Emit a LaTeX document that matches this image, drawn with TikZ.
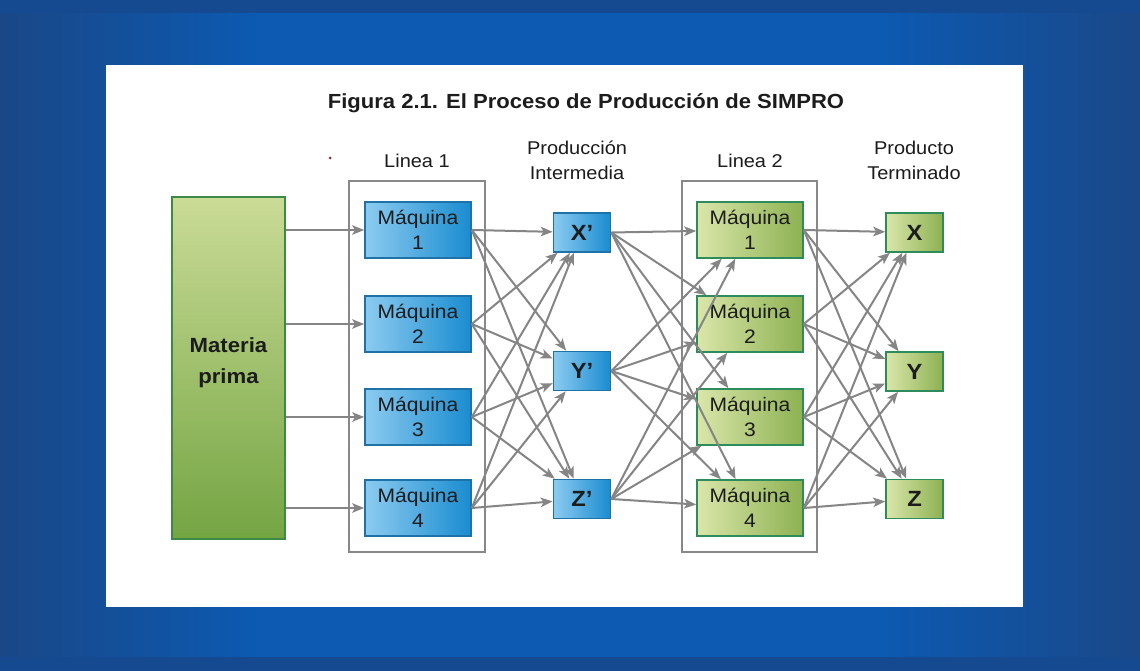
\documentclass[tikz,border=0pt]{standalone}
\usepackage{fontspec}
\setmainfont{Liberation Sans}[FakeStretch=1.08]
\usetikzlibrary{arrows.meta}
\definecolor{bgA}{HTML}{1A4786}
\definecolor{bgC}{HTML}{0C5AB2}
\definecolor{bgB}{HTML}{1A4888}
\definecolor{band}{HTML}{164A90}
\definecolor{arrgray}{HTML}{858585}
\definecolor{boxgray}{HTML}{888888}
\definecolor{blueL}{HTML}{8CCBF0}
\definecolor{blueR}{HTML}{1A8CD0}
\definecolor{blueB}{HTML}{1F72A8}
\definecolor{greenL}{HTML}{DAE6AA}
\definecolor{greenR}{HTML}{8DB152}
\definecolor{greenB}{HTML}{2E8B5B}
\definecolor{mpT}{HTML}{CADB96}
\definecolor{mpB}{HTML}{74A543}
\definecolor{mpBd}{HTML}{3C8A45}
\definecolor{txt}{HTML}{1C1C1C}
\definecolor{dotc}{HTML}{8A2A2A}
\begin{document}
\begin{tikzpicture}[x=1pt,y=1pt,
  arr/.style={draw=arrgray, line width=2pt, -{Stealth[length=12pt,width=9.5pt,inset=3pt]}},
  mach/.style={line width=1.6pt, minimum width=106pt, minimum height=56pt, inner sep=0pt,
    align=center, font=\fontsize{19.5}{25.5}\selectfont, text=txt},
  mblue/.style={mach, draw=blueB, left color=blueL, right color=blueR},
  mgreen/.style={mach, draw=greenB, left color=greenL, right color=greenR},
  small/.style={line width=1.6pt, minimum width=57pt, minimum height=39pt, inner sep=0pt,
    font=\bfseries\fontsize{22}{24}\selectfont, text=txt},
  pblue/.style={small, draw=blueB, left color=blueL, right color=blueR},
  pgreen/.style={small, draw=greenB, left color=greenL, right color=greenR},
  lbl/.style={align=center, font=\fontsize{18.5}{25}\selectfont, text=txt},
  linebox/.style={draw=boxgray, line width=1.8pt}
]
\useasboundingbox (0,0) rectangle (1140,670);
% background
\fill[bgC] (-2,-2) rectangle (1142,672);
\shade[left color=bgA, right color=bgC] (-2,-2) rectangle (260,672);
\shade[left color=bgC, right color=bgB] (880,-2) rectangle (1142,672);
\fill[band] (-2,657) rectangle (1142,672);
\fill[band] (-2,-2) rectangle (1142,13);
\fill[white] (106,63) rectangle (1023,605);

% title and labels
\node[font=\bfseries\fontsize{20.4}{24}\selectfont, text=txt] (title) at (586,567) {Figura 2.1. El Proceso de Producción de SIMPRO};
\fill[dotc] (330,512) circle (1.5pt);
\node[lbl] (l1) at (417,509) {Linea 1};
\node[lbl] (pi) at (577,510) {Producción\\Intermedia};
\node[lbl] (l2) at (750,509) {Linea 2};
\node[lbl] (pt) at (914,510) {Producto\\Terminado};

% line boxes
\draw[linebox] (349,118) rectangle (485,489);
\draw[linebox] (682,118) rectangle (817,489);

% materia prima
\node[draw=mpBd, line width=1.6pt, top color=mpT, bottom color=mpB, minimum width=113pt,
  minimum height=342pt, inner sep=0pt,
  label={[yshift=5pt, align=center, text=txt, font=\bfseries\fontsize{20.5}{31}\selectfont]center:{Materia\\prima}}] (mp) at (228.5,302) {};

% machines
\node[mblue] (b1) at (418,440) {Máquina\\1};
\node[mblue] (b2) at (418,346) {Máquina\\2};
\node[mblue] (b3) at (418,253) {Máquina\\3};
\node[mblue] (b4) at (418,162) {Máquina\\4};
\node[mgreen] (g1) at (750,440) {Máquina\\1};
\node[mgreen] (g2) at (750,346) {Máquina\\2};
\node[mgreen] (g3) at (750,253) {Máquina\\3};
\node[mgreen] (g4) at (750,162) {Máquina\\4};

% intermediate and final
\node[pblue] (px) at (582,437.5) {X’};
\node[pblue] (py) at (582,299) {Y’};
\node[pblue] (pz) at (582,171) {Z’};
\node[pgreen] (fx) at (914.5,437.5) {X};
\node[pgreen] (fy) at (914.5,298.5) {Y};
\node[pgreen] (fz) at (914.5,171) {Z};

% arrows
\foreach \i in {1,...,4} { \draw[arr] (mp.east |- b\i.west) -- (b\i.west); }
\foreach \i in {1,...,4} { \foreach \j in {x,y,z} { \draw[arr] (b\i.east) -- (p\j); } }
\foreach \j in {x,y,z} { \foreach \i in {1,...,4} { \draw[arr] (p\j.east) -- (g\i); } }
\foreach \i in {1,...,4} { \foreach \j in {x,y,z} { \draw[arr] (g\i.east) -- (f\j); } }
\end{tikzpicture}
\end{document}
